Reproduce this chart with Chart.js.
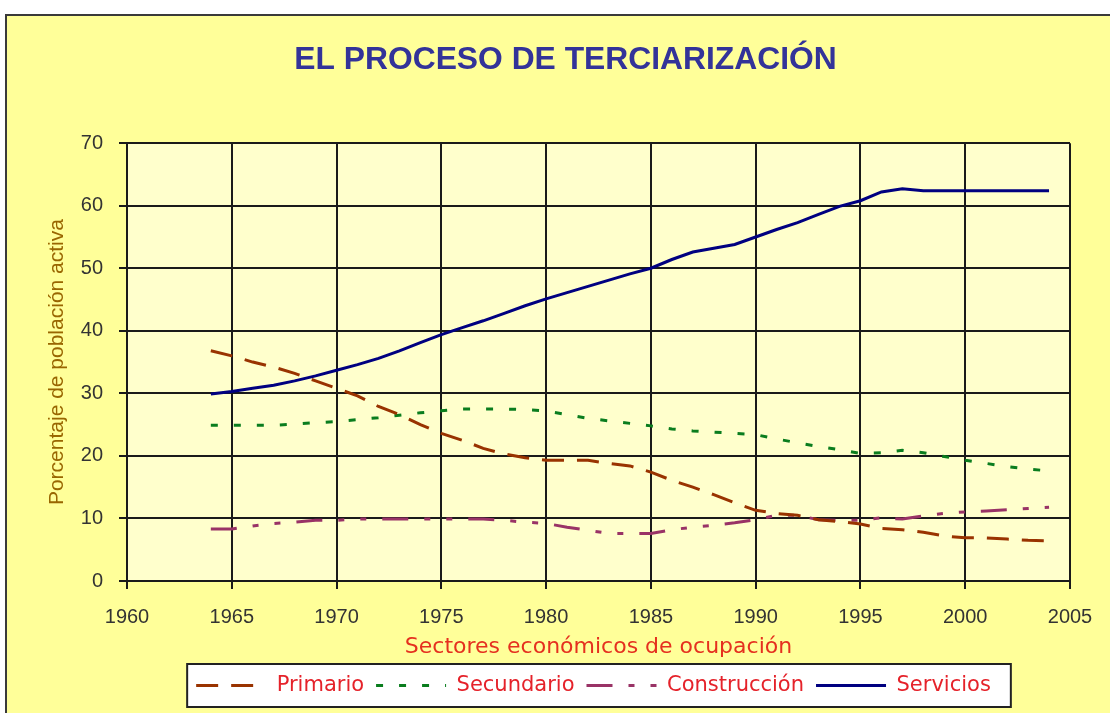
<!DOCTYPE html>
<html>
<head>
<meta charset="utf-8">
<script src="https://cdn.jsdelivr.net/npm/chart.js@4.4.1/dist/chart.umd.min.js"></script>
<style>
  html, body { margin: 0; padding: 0; background: #fff; }
  #frame {
    position: absolute; left: 5px; top: 14px;
    width: 1105px; height: 699px; box-sizing: border-box;
    border-left: 2px solid #3a3a3a; border-top: 2px solid #3a3a3a;
    background: #ffff99;
  }
  #chart { display: block; }
</style>
</head>
<body>
<div id="frame"><canvas id="chart"></canvas></div>
<script>
// years (1964 - 2004)
const years = [1964, 1965, 1966, 1967, 1968, 1969, 1970, 1971, 1972, 1973, 1974,
  1975, 1976, 1977, 1978, 1979, 1980, 1981, 1982, 1983, 1984, 1985, 1986, 1987,
  1988, 1989, 1990, 1991, 1992, 1993, 1994, 1995, 1996, 1997, 1998, 1999, 2000,
  2001, 2002, 2003, 2004];

const primario = [36.8, 36, 35, 34.2, 33.2, 32, 30.8, 29.6, 27.9, 26.6, 25,
  23.6, 22.5, 21.2, 20.3, 19.7, 19.3, 19.3, 19.3, 18.8, 18.4, 17.4, 16.1, 15,
  13.8, 12.5, 11.3, 10.8, 10.5, 9.8, 9.5, 9.1, 8.4, 8.2, 7.8, 7.2, 6.9,
  6.9, 6.7, 6.5, 6.4];

const secundario = [24.9, 24.9, 24.9, 24.9, 25.1, 25.3, 25.5, 25.8, 26.1, 26.5, 26.9,
  27.2, 27.5, 27.5, 27.5, 27.4, 27.2, 26.6, 26, 25.6, 25.2, 24.8, 24.3, 24,
  23.8, 23.6, 23.4, 22.7, 22.1, 21.5, 21, 20.4, 20.5, 20.9, 20.5, 19.9, 19.3,
  18.8, 18.3, 17.9, 17.6];

const construccion = [8.3, 8.3, 8.8, 9.2, 9.4, 9.7, 9.7, 9.9, 9.9, 9.9, 9.9,
  9.9, 9.9, 9.9, 9.7, 9.4, 9.2, 8.6, 8.1, 7.6, 7.6, 7.6, 8.2, 8.6,
  8.9, 9.3, 9.8, 10.5, 10.5, 9.8, 9.7, 9.7, 10.1, 9.9, 10.4, 10.8, 11.05,
  11.2, 11.4, 11.6, 11.8];

const servicios = [29.9, 30.3, 30.8, 31.3, 32, 32.8, 33.7, 34.6, 35.6, 36.8, 38.1,
  39.4, 40.5, 41.6, 42.8, 44, 45.1, 46.1, 47.1, 48.1, 49.1, 50, 51.4, 52.6,
  53.2, 53.8, 55, 56.2, 57.3, 58.6, 59.9, 60.8, 62.2, 62.7, 62.4, 62.4, 62.4,
  62.4, 62.4, 62.4, 62.4];

const seriesNames = ['Primario', 'Secundario', 'Construcción', 'Servicios'];
const xTicks = { min: 1960, max: 2005, step: 5 };
const yTicks = { min: 0, max: 70, step: 10 };

function toPoints(values) {
  return years.map((yr, i) => ({ x: yr, y: values[i] }));
}

Chart.defaults.font.family = '"Liberation Sans", Arial, sans-serif';
const legendFont = '"DejaVu Sans", Verdana, sans-serif';

// light yellow plot area + white legend frame
const backdrop = {
  id: 'backdrop',
  afterLayout(chart) {
    // title and legend sit a bit right of centre in the original
    chart.titleBlock.left += 12;
    chart.titleBlock.right += 12;
    chart.legend.left += 40;
    chart.legend.right += 40;
  },
  beforeDraw(chart) {
    const { ctx, chartArea: a } = chart;
    ctx.save();
    ctx.fillStyle = '#ffffcc';
    ctx.fillRect(a.left, a.top, a.right - a.left, a.bottom - a.top);

    const boxes = chart.legend.legendHitBoxes;
    if (boxes && boxes.length) {
      const l = Math.min(...boxes.map(b => b.left)) - 9;
      const r = Math.max(...boxes.map(b => b.left + b.width)) + 20;
      const t = boxes[0].top - 11;
      const h = boxes[0].height + 22;
      ctx.fillStyle = '#ffffff';
      ctx.fillRect(l, t, r - l, h);
      ctx.strokeStyle = '#222';
      ctx.lineWidth = 2;
      ctx.strokeRect(l, t, r - l, h);
    }
    ctx.restore();
  }
};

const ctx = document.getElementById('chart').getContext('2d');
new Chart(ctx, {
  type: 'line',
  data: {
    datasets: [{
      label: seriesNames[0],
      data: toPoints(primario),
      borderColor: '#993300',
      borderWidth: 3,
      borderDash: [22, 13]
    }, {
      label: seriesNames[1],
      data: toPoints(secundario),
      borderColor: '#0a7d1e',
      borderWidth: 3,
      borderDash: [7, 16]
    }, {
      label: seriesNames[2],
      data: toPoints(construccion),
      borderColor: '#993366',
      borderWidth: 3,
      borderDash: [26, 16, 6, 16, 6, 16]
    }, {
      label: seriesNames[3],
      data: toPoints(servicios),
      borderColor: '#000080',
      borderWidth: 3
    }]
  },
  options: {
    responsive: true,
    maintainAspectRatio: false,
    animation: false,
    layout: { padding: { left: 30, right: 40, top: 0, bottom: 7 } },
    elements: {
      point: { radius: 0, pointStyle: 'line' },
      line: { tension: 0, fill: false }
    },
    plugins: {
      tooltip: { enabled: false },
      title: {
        display: true,
        text: 'EL PROCESO DE TERCIARIZACIÓN',
        color: '#333399',
        font: { size: 31.8, weight: 'bold' },
        padding: { top: 25, bottom: 64 }
      },
      legend: {
        position: 'bottom',
        labels: {
          usePointStyle: true,
          pointStyle: 'line',
          pointStyleWidth: 70,
          padding: 12,
          color: '#e5222a',
          font: { family: legendFont, size: 21 },
          // keep the dash pattern of each line in its legend sample
          generateLabels(chart) {
            const items = Chart.defaults.plugins.legend.labels.generateLabels(chart);
            items.forEach(it => {
              const ds = chart.data.datasets[it.datasetIndex];
              it.lineDash = ds.borderDash || [];
              it.lineWidth = 3;
              it.strokeStyle = ds.borderColor;
            });
            return items;
          }
        }
      }
    },
    scales: {
      x: {
        type: 'linear',
        min: xTicks.min,
        max: xTicks.max,
        afterFit: s => { s.height = 82; },
        ticks: {
          stepSize: xTicks.step,
          padding: 16,
          color: '#333',
          font: { size: 20 },
          callback: v => String(v)
        },
        grid: { color: '#1a1a1a', lineWidth: 2, tickLength: 8 },
        border: { color: '#1a1a1a', width: 2 },
        title: {
          display: true,
          text: 'Sectores económicos de ocupación',
          color: '#e5301f',
          font: { family: legendFont, size: 22 },
          padding: { top: 0, bottom: 3 }
        }
      },
      y: {
        min: yTicks.min,
        max: yTicks.max,
        afterFit: s => { s.width = 90; },
        ticks: {
          stepSize: yTicks.step,
          padding: 16,
          color: '#333',
          font: { size: 20 }
        },
        grid: { color: '#1a1a1a', lineWidth: 2, tickLength: 8 },
        border: { color: '#1a1a1a', width: 2 },
        title: {
          display: true,
          text: 'Porcentaje de población activa',
          color: '#996600',
          font: { size: 21 },
          padding: { top: 8, bottom: 0 }
        }
      }
    }
  },
  plugins: [backdrop]
});
</script>
</body>
</html>
